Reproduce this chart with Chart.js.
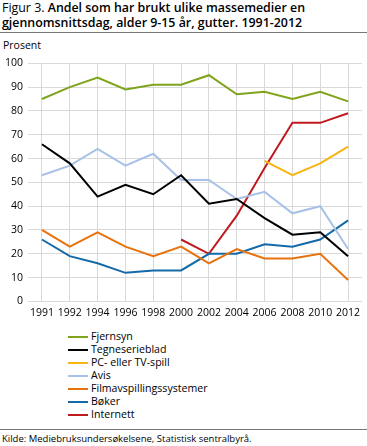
<!DOCTYPE html>
<html>
<head>
<meta charset="utf-8">
<script src="https://cdn.jsdelivr.net/npm/chart.js@4"></script>
<style>
  body { margin: 0; width: 367px; height: 446px; position: relative; font-family: "Open Sans", sans-serif; background: #fff; overflow: hidden; }
  #tittel { position: absolute; left: 2px; top: 0px; width: 362px; font-size: 12.4px; line-height: 15px; color: #000; }
  #tittel b { font-weight: 600; }
  .strek { position: absolute; left: 0; width: 367px; height: 1px; background: #777; }
  #prosent { position: absolute; left: 3px; top: 38px; font-size: 10.5px; }
  #boks { position: absolute; left: 0; top: 52px; width: 367px; height: 272px; }
  #legende { position: absolute; left: 68px; top: 330px; font-size: 10.6px; line-height: 13px; }
  .rad { display: flex; align-items: center; height: 13px; }
  .rad span.linje { display: inline-block; width: 20px; height: 2px; margin-right: 3px; }
  #kilde { position: absolute; left: 2px; top: 432px; font-size: 9.5px; }
</style>
</head>
<body>
<div id="tittel">Figur 3. <b>Andel som har brukt ulike massemedier en gjennomsnittsdag, alder 9-15 år, gutter. 1991-2012</b></div>
<div class="strek" style="top:32px"></div>
<div id="prosent">Prosent</div>
<div id="boks"><canvas id="myChart"></canvas></div>
<div id="legende"></div>
<div class="strek" style="top:429px"></div>
<div id="kilde">Kilde: Mediebruksundersøkelsene, Statistisk sentralbyrå.</div>

<script>
const aar = ["1991", "1992", "1994", "1996", "1998", "2000", "2002", "2004", "2006", "2008", "2010", "2012"];

const fjernsyn = [85, 90, 94, 89, 91, 91, 95, 87, 88, 85, 88, 84];
const tegneserieblad = [66, 58, 44, 49, 45, 53, 41, 43, 35, 28, 29, 19];
const pcSpill = [null, null, null, null, null, null, null, null, 59, 53, 58, 65];
const avis = [53, 57, 64, 57, 62, 51, 51, 43, 46, 37, 40, 22];
const film = [30, 23, 29, 23, 19, 23, 16, 22, 18, 18, 20, 9];
const boker = [26, 19, 16, 12, 13, 13, 20, 20, 24, 23, 26, 34];
const internett = [null, null, null, null, null, 26, 20, 36, 56, 75, 75, 79];

const yTicks = [0, 10, 20, 30, 40, 50, 60, 70, 80, 90, 100];

function serie(navn, data, farge) {
  return {
    label: navn,
    data: data,
    borderColor: farge,
    backgroundColor: farge,
    borderWidth: 2,
    pointRadius: 0,
    tension: 0,
    spanGaps: false
  };
}

const config = {
  type: 'line',
  data: {
    labels: aar,
    datasets: [
      serie("Fjernsyn", fjernsyn, "#7fa41c"),
      serie("Tegneserieblad", tegneserieblad, "#000000"),
      serie("PC- eller TV-spill", pcSpill, "#f7b512"),
      serie("Avis", avis, "#a8c1e6"),
      serie("Filmavspillingssystemer", film, "#e8720c"),
      serie("Bøker", boker, "#146aa8"),
      serie("Internett", internett, "#bf1a1e")
    ]
  },
  options: {
    responsive: true,
    maintainAspectRatio: false,
    animation: false,
    layout: { padding: { left: 0, right: 5, top: 4, bottom: 0 } },
    plugins: {
      legend: { display: false },
      tooltip: { enabled: false }
    },
    scales: {
      x: {
        offset: true,
        grid: { offset: false, color: "#d9d9d9", drawTicks: false },
        border: { display: false },
        ticks: { color: "#000", font: { family: "Open Sans", size: 10.5 }, padding: 5, maxRotation: 0, autoSkip: false }
      },
      y: {
        min: 0,
        max: 100,
        afterBuildTicks: (axis) => { axis.ticks = yTicks.map(v => ({ value: v })); },
        grid: { color: "#d9d9d9", drawTicks: false },
        border: { display: false },
        ticks: { color: "#000", font: { family: "Open Sans", size: 10.5 }, padding: 5 }
      }
    }
  }
};

const chartDOM = document.getElementById("myChart");
const chart = new Chart(chartDOM, config);

// legende en per linje
const legende = document.getElementById("legende");
chart.data.datasets.forEach((ds) => {
  const rad = document.createElement("div");
  rad.className = "rad";
  rad.innerHTML = '<span class="linje" style="background:' + ds.borderColor + '"></span>' + ds.label;
  legende.appendChild(rad);
});
</script>
</body>
</html>
